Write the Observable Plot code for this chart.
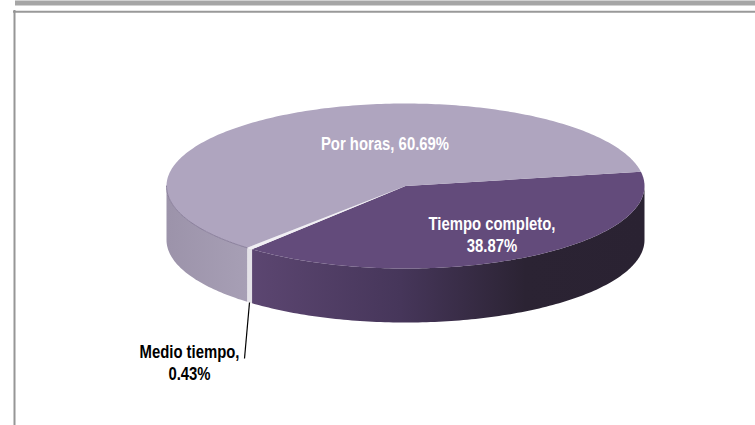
<!DOCTYPE html>
<html>
<head>
<meta charset="utf-8">
<script src="https://cdn.jsdelivr.net/npm/d3@7"></script>
<script src="https://cdn.jsdelivr.net/npm/@observablehq/plot@0.6"></script>
<style>html,body{margin:0;padding:0;background:#fff;overflow:hidden}svg{display:block}</style>
</head>
<body>
<div id="chart"></div>
<script>
// Data
const categories = ["Tiempo completo", "Medio tiempo", "Por horas"];
const shares = [38.87, 0.43, 60.69];
const labelLines = [["Tiempo completo,", "38.87%"], ["Medio tiempo,", "0.43%"], ["Por horas, 60.69%"]];

// Styling and layout, kept apart from the values
const topColors = ["#634b7b", "#f1eff4", "#afa5bf"];
const wallStops = [
  [[250, "#5c4671"], [400, "#46365a"], [525, "#2b2333"], [644, "#2a2232"]],
  [[246, "#e4e2e8"], [252, "#e4e2e8"]],
  [[166, "#9c93aa"], [247, "#a79fb5"]]
];
const labelColors = ["#ffffff", "#000000", "#ffffff"];
const labelX = [491.5, 189, 384.5];
const labelY = [224, 352, 143.5];
const lineGap = 21.5;
const textSqueeze = 0.85;
const pie = {cx: 405, cy: 185.5, rx: 239, ry: 82.5, depth: 54, start: -10};
const leader = {x1: 249, y1: 302, x2: 244, y2: 358};
const W = 755, H = 425;

// Pie geometry derived from the shares
const total = d3.sum(shares);
const rad = Math.PI / 180;
const px = (t) => pie.cx + pie.rx * Math.cos(t * rad);
const py = (t, dz = 0) => pie.cy + pie.ry * Math.sin(t * rad) + dz;
let acc = pie.start;
const spans = shares.map((s) => { const a = acc; acc += s / total * 360; return [a, acc]; });

const arcSteps = (a, b, step) => {
  const n = Math.max(1, Math.ceil((b - a) / step));
  return d3.range(n + 1).map((i) => a + (b - a) * i / n);
};

const tops = spans.flatMap(([a, b], i) => [
  {x: pie.cx, y: pie.cy, id: categories[i], color: topColors[i]},
  ...arcSteps(a, b, 1).map((t) => ({x: px(t), y: py(t), id: categories[i], color: topColors[i]}))
]);

// only the front half of the disc shows its wall
const wallOf = ([a, b]) => {
  const lo = Math.max(a, 0), hi = Math.min(b, 180);
  const ts = arcSteps(lo, hi, 1);
  return [
    ...ts.map((t) => ({x: px(t), y: py(t)})),
    ...ts.slice().reverse().map((t) => ({x: px(t), y: py(t, pie.depth)}))
  ];
};

const gradientDefs = () => {
  const defs = d3.create("svg:defs");
  wallStops.forEach((stops, i) => {
    const x0 = stops[0][0], x1 = stops[stops.length - 1][0];
    const g = defs.append("linearGradient")
      .attr("id", `wall${i}`).attr("gradientUnits", "userSpaceOnUse")
      .attr("x1", x0).attr("x2", x1).attr("y1", 0).attr("y2", 0);
    stops.forEach(([x, c]) => g.append("stop").attr("offset", (x - x0) / (x1 - x0)).attr("stop-color", c));
  });
  return defs.node();
};

const rim = arcSteps(spans[2][0], 180, 1).map((t) => ({x: px(t), y: py(t)}));

const labels = labelLines.flatMap((lines, i) => lines.map((text, j) => ({
  text, x: labelX[i], y: labelY[i] + j * lineGap, color: labelColors[i]
})));

const chart = Plot.plot({
  width: W, height: H,
  marginTop: 0, marginRight: 0, marginBottom: 0, marginLeft: 0,
  x: {domain: [0, W], range: [0, W], axis: null},
  y: {domain: [0, H], range: [0, H], axis: null},
  color: {type: "identity"},
  style: {background: "transparent"},
  marks: [
    gradientDefs,
    // page band and chart frame
    Plot.ruleY([2.5], {x1: 15, x2: W, stroke: "#a6a6a6", strokeWidth: 5}),
    Plot.ruleY([11.2], {x1: 13, x2: W, stroke: "#999999", strokeWidth: 2}),
    Plot.ruleX([14], {y1: 10, y2: H, stroke: "#969696", strokeWidth: 2}),
    // walls
    ...spans.map((span, i) => Plot.line(wallOf(span), {
      x: "x", y: "y", fill: `url(#wall${i})`, stroke: "none", curve: "linear-closed"
    })),
    // top face
    Plot.line(tops, {x: "x", y: "y", z: "id", fill: "color", stroke: "none", curve: "linear-closed"}),
    Plot.line(rim, {x: "x", y: "y", stroke: "#7d7291", strokeWidth: 0.8}),
    // leader line
    Plot.link([leader], {x1: "x1", y1: "y1", x2: "x2", y2: "y2", stroke: "#000000", strokeWidth: 1.2}),
    // labels
    Plot.text(labels, {
      x: "x", y: "y", text: "text", fill: "color",
      fontFamily: "Liberation Sans", fontWeight: "bold", fontSize: 17.5
    })
  ]
});
document.getElementById("chart").append(chart);
chart.querySelectorAll("text").forEach((t) => {
  const tgt = t.querySelector("tspan") || t;
  [t, tgt].forEach((el) => {
    el.setAttribute("lengthAdjust", "spacingAndGlyphs");
  });
  const len = t.getComputedTextLength();
  tgt.setAttribute("textLength", len * textSqueeze);
});
</script>
</body>
</html>
